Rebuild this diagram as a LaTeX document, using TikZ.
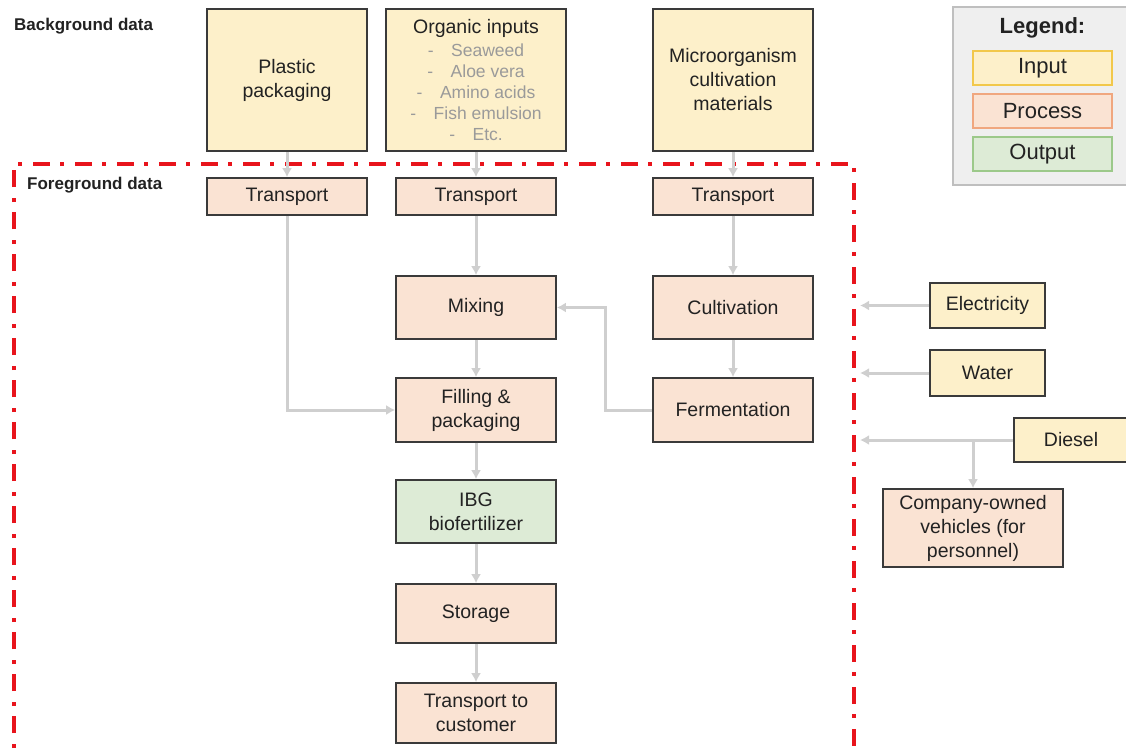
\documentclass[tikz,border=0pt]{standalone}
\usepackage{fontspec}
\setmainfont{Liberation Sans}
\usetikzlibrary{arrows.meta}
\definecolor{inputfill}{HTML}{FDF0CA}
\definecolor{procfill}{HTML}{FAE3D3}
\definecolor{outfill}{HTML}{DDEBD6}
\definecolor{boxline}{HTML}{3A3A3A}
\definecolor{arrowgray}{HTML}{CFCFCF}
\definecolor{subgray}{HTML}{9A9A9A}
\definecolor{framered}{HTML}{E8141C}
\definecolor{txt}{HTML}{222222}
\definecolor{legfill}{HTML}{EFEFEF}
\definecolor{legline}{HTML}{BFBFBF}
\definecolor{leginline}{HTML}{F2C84B}
\definecolor{legprocline}{HTML}{F0A77F}
\definecolor{legoutline}{HTML}{9CC98A}
\newcommand\orgitem[1]{{\color{subgray}\fontsize{17.5}{21}\selectfont -\hspace{1em}#1}}
\begin{document}
\begin{tikzpicture}[x=1pt,y=-1pt,
  base/.style={draw=boxline, line width=1.6pt, text=txt, align=center, inner sep=0pt,
    font=\fontsize{19.5}{24}\selectfont},
  inbox/.style={base, fill=inputfill},
  procbox/.style={base, fill=procfill},
  outbox/.style={base, fill=outfill},
  flow/.style={draw=arrowgray, line width=3pt, -{Latex[width=10pt,length=9pt]}},
  sectlabel/.style={anchor=west, inner sep=0pt, text=txt, font=\bfseries\fontsize{17}{20}\selectfont},
  legitem/.style={line width=1.5pt, text=txt, inner sep=0pt, minimum width=139, minimum height=34,
    font=\fontsize{22}{26}\selectfont}
]
\useasboundingbox (0,0) rectangle (1126,755);

% frame
\coordinate (fl) at (14,164);
\coordinate (fr) at (854,164);
\draw[framered, line width=4pt, dash pattern=on 17pt off 10pt on 4pt off 11pt]
  (14,775) -- (fl) -- (fr) -- (854,775);
\coordinate (fin) at (860,0);

% labels
\node[sectlabel] (bglabel) at (14,26) {Background data};
\node[sectlabel] (fglabel) at (27,185) {Foreground data};

% background inputs
\node[inbox, minimum width=160, minimum height=142] (plastic) at (287,80) {Plastic\\packaging};
\node[inbox, minimum width=180, minimum height=142, font=\fontsize{19.5}{21}\selectfont] (organic) at (476,80)
  {Organic inputs\\[2pt]\orgitem{Seaweed}\\\orgitem{Aloe vera}\\\orgitem{Amino acids}\\\orgitem{Fish emulsion}\\\orgitem{Etc.}};
\node[inbox, minimum width=160, minimum height=142] (micro) at (733,80) {Microorganism\\cultivation\\materials};

% transports
\node[procbox, minimum width=160, minimum height=37] (t1) at (287,196.5) {Transport};
\node[procbox, minimum width=160, minimum height=37] (t2) at (476,196.5) {Transport};
\node[procbox, minimum width=160, minimum height=37] (t3) at (733,196.5) {Transport};

% processes
\node[procbox, minimum width=160, minimum height=63] (mixing) at (476,307.5) {Mixing};
\node[procbox, minimum width=160, minimum height=63] (cultivation) at (733,307.5) {Cultivation};
\node[procbox, minimum width=160, minimum height=64] (filling) at (476,410) {Filling \&\\packaging};
\node[procbox, minimum width=160, minimum height=64] (fermentation) at (733,410) {Fermentation};
\node[outbox, minimum width=160, minimum height=63] (ibg) at (476,511.5) {IBG\\biofertilizer};
\node[procbox, minimum width=160, minimum height=59] (storage) at (476,613.5) {Storage};
\node[procbox, minimum width=160, minimum height=60] (tcust) at (476,713) {Transport to\\customer};

% right-side inputs
\node[inbox, minimum width=115, minimum height=45] (elec) at (987.5,305.5) {Electricity};
\node[inbox, minimum width=115, minimum height=46] (water) at (987.5,373) {Water};
\node[inbox, minimum width=114, minimum height=44] (diesel) at (1071,440) {Diesel};
\node[procbox, minimum width=180, minimum height=78] (company) at (973,528) {Company-owned\\vehicles (for\\personnel)};

% legend
\node[draw=legline, fill=legfill, line width=1.5pt, minimum width=176, minimum height=178, inner sep=0pt] (legend) at (1041,96) {};
\node[inner sep=0pt, text=txt, font=\bfseries\fontsize{22}{26}\selectfont] (legtitle) at (1042.5,28) {Legend:};
\node[legitem, draw=leginline, fill=inputfill] (leginput) at (1042.5,68) {Input};
\node[legitem, draw=legprocline, fill=procfill] (legproc) at (1042.5,111) {Process};
\node[legitem, draw=legoutline, fill=outfill] (legout) at (1042.5,154) {Output};

% flows
\draw[flow] (plastic.south) -- (t1.north);
\draw[flow] (organic.south) -- (t2.north);
\draw[flow] (micro.south) -- (t3.north);
\draw[flow] (t1.south) |- (filling.west);
\draw[flow] (t2.south) -- (mixing.north);
\draw[flow] (mixing.south) -- (filling.north);
\draw[flow] (filling.south) -- (ibg.north);
\draw[flow] (ibg.south) -- (storage.north);
\draw[flow] (storage.south) -- (tcust.north);
\draw[flow] (t3.south) -- (cultivation.north);
\draw[flow] (cultivation.south) -- (fermentation.north);
\draw[flow] (fermentation.west) -- ++(-47,0) |- (mixing.east);
\draw[flow] (elec.west) -- (elec.west -| fin);
\draw[flow] (water.west) -- (water.west -| fin);
\draw[flow] (diesel.west) -- (diesel.west -| fin);
\draw[flow] (diesel.west -| company.north) -- (company.north);
\end{tikzpicture}
\end{document}
